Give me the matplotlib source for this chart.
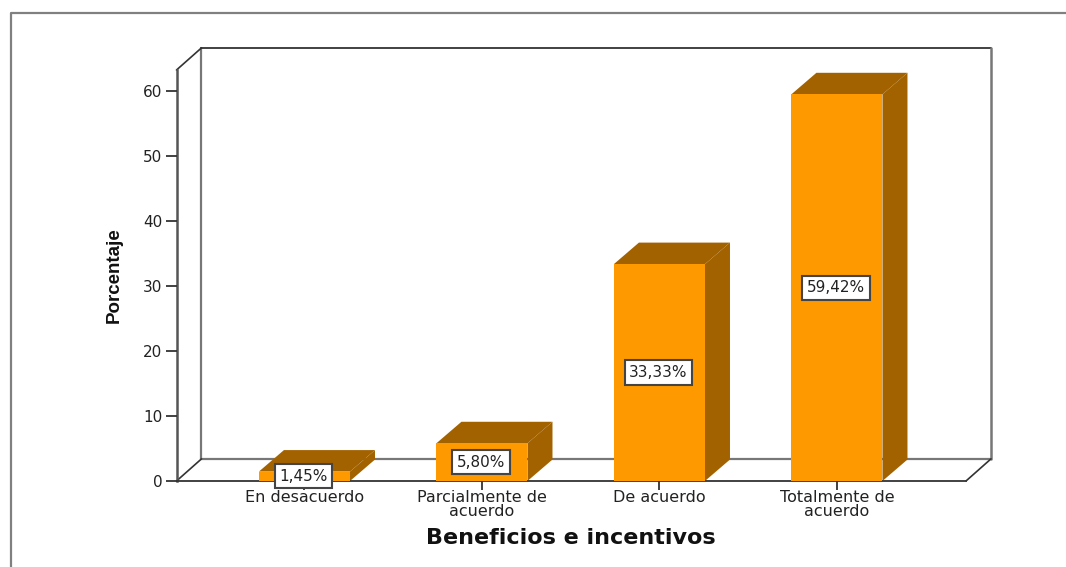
import matplotlib
matplotlib.use("Agg")
import matplotlib.pyplot as plt
from matplotlib.lines import Line2D
from matplotlib.patches import Polygon

# ---- data ----
CATEGORIES = ["En desacuerdo", "Parcialmente de\nacuerdo", "De acuerdo", "Totalmente de\nacuerdo"]
PERCENT = [1.45, 5.80, 33.33, 59.42]
LABELS = ["1,45%", "5,80%", "33,33%", "59,42%"]
YTICKS = [0, 10, 20, 30, 40, 50, 60]

W, H = 1066, 567
ORANGE, BROWN = "#FF9900", "#A36200"
LINE, DARK = "#555555", "#333333"
TEXT = "#222222"

plt.rcParams["font.family"] = "DejaVu Sans"
fig = plt.figure(figsize=(W / 100, H / 100), dpi=100)

# outer chart frame, open on the right and at the bottom
fig.add_artist(Line2D([10.5 / W, 10.5 / W, 1], [0, 1 - 13 / H, 1 - 13 / H], color="#808080", lw=1.6))

# front plane of the pseudo-3d box, pixel-placed
left, right, top, bottom = 176.5, 966, 70, 481
ax = fig.add_axes([left / W, 1 - bottom / H, (right - left) / W, (bottom - top) / H])
ax.set_xlim(-0.721, 3.727)
ax.set_ylim(0, 63.15)
DX, DY = 0.1408, 3.3    # depth offset in data units
WALL_DY = 3.4           # back wall sits a touch higher than the bar depth

x0, x1 = ax.get_xlim()
y0, y1 = ax.get_ylim()
kw = dict(clip_on=False, solid_capstyle="round")
# back wall
ax.plot([x0 + DX, x0 + DX], [y0 + WALL_DY, y1 + WALL_DY], color="#777777", lw=1.6, zorder=1, **kw)
ax.plot([x0 + DX, x1 + DX], [y1 + WALL_DY, y1 + WALL_DY], color=DARK, lw=1.3, zorder=1, **kw)
ax.plot([x1 + DX, x1 + DX], [y0 + WALL_DY, y1 + WALL_DY], color="#777777", lw=1.8, zorder=1, **kw)
ax.plot([x0 + DX, x1 + DX], [y0 + WALL_DY, y0 + WALL_DY], color="#777777", lw=1.6, zorder=1, **kw)
# side edges
ax.plot([x0, x0 + DX], [y1, y1 + WALL_DY], color=DARK, lw=1.2, zorder=1, **kw)
ax.plot([x0, x0 + DX], [y0, y0 + WALL_DY], color=DARK, lw=1.2, zorder=1, **kw)
ax.plot([x1, x1 + DX], [y0, y0 + WALL_DY], color=DARK, lw=1.2, zorder=1, **kw)

xs = list(range(len(PERCENT)))
BAR_W = 0.513
ax.bar(xs, PERCENT, width=BAR_W, color=ORANGE, zorder=3, clip_on=False)
for x, v, lab in zip(xs, PERCENT, LABELS):
    l, r = x - BAR_W / 2, x + BAR_W / 2
    ax.add_patch(Polygon([(l, v), (l + DX, v + DY), (r + DX, v + DY), (r, v)],
                         facecolor=BROWN, edgecolor="none", clip_on=False, zorder=2))
    ax.add_patch(Polygon([(r, 0), (r + DX, DY), (r + DX, v + DY), (r, v)],
                         facecolor=BROWN, edgecolor="none", clip_on=False, zorder=2))
    ax.text(x - 0.006, v / 2, lab, ha="center", va="center", fontsize=11, color=TEXT, zorder=5,
            bbox=dict(boxstyle="square,pad=0.3", facecolor="white", edgecolor="#444444", lw=1.5))

for s in ["top", "right"]:
    ax.spines[s].set_visible(False)
ax.spines["left"].set_color(LINE)
ax.spines["left"].set_linewidth(1.8)
ax.spines["bottom"].set_color(DARK)
ax.spines["bottom"].set_linewidth(1.3)
ax.patch.set_alpha(0)
ax.set_axisbelow(False)

ax.set_yticks(YTICKS)
ax.set_xticks(xs)
ax.set_xticklabels(CATEGORIES, linespacing=0.88)
ax.tick_params(axis="y", length=8, width=1.3, color=DARK, labelsize=11, labelcolor=TEXT, pad=2)
ax.tick_params(axis="x", length=6.5, width=1.3, color=DARK, labelsize=11.5, labelcolor=TEXT, pad=0)

fig.text(114 / W, 1 - 275 / H, "Porcentaje", rotation=90, ha="center", va="center",
         fontsize=13.5, fontweight="bold", family="Liberation Sans", color="#111111")
fig.text(571 / W, 1 - 538 / H, "Beneficios e incentivos", ha="center", va="center",
         fontsize=16, fontweight="bold", color="#111111")

fig.savefig("out.png", dpi=100)
